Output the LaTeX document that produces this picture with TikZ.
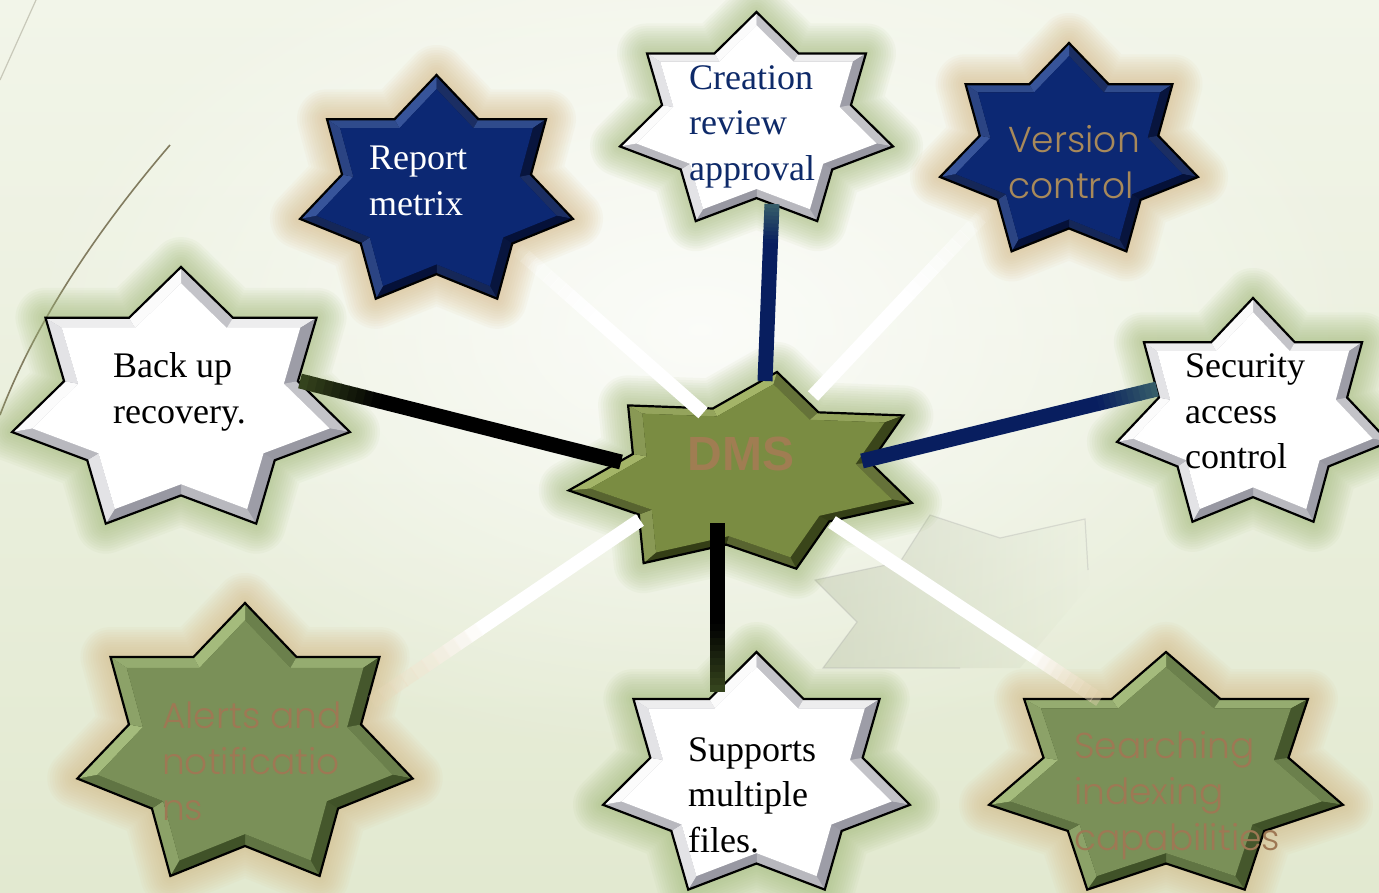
\documentclass[tikz,border=0pt]{standalone}
\usepackage{fontspec}
\setmainfont{Liberation Serif}
\IfFontExistsTF{Poppins Light}{\newfontfamily\gothic{Poppins Light}}{\newfontfamily\gothic{Poppins}}
\newfontfamily\dmsf{Liberation Sans}
\usetikzlibrary{calc,fadings}

\tikzfading[name=softglow, inner color=transparent!0, outer color=transparent!100]
\tikzfading[name=ghostfade, left color=transparent!20, right color=transparent!100]

\definecolor{bgtop}{RGB}{242,245,233}
\definecolor{bgbot}{RGB}{226,233,208}
\definecolor{navy}{RGB}{12,40,115}
\definecolor{navyL}{RGB}{55,85,155}
\definecolor{navyD}{RGB}{4,16,55}
\definecolor{olv}{RGB}{122,144,88}
\definecolor{olvL}{RGB}{165,188,125}
\definecolor{olvD}{RGB}{62,80,38}
\definecolor{dmsg}{RGB}{122,140,66}
\definecolor{dmsL}{RGB}{165,182,105}
\definecolor{dmsD}{RGB}{50,60,20}
\definecolor{wL}{RGB}{252,252,252}
\definecolor{wD}{RGB}{150,150,160}
\definecolor{glowG}{RGB}{160,184,118}
\definecolor{glowT}{RGB}{214,184,132}
\definecolor{tanV}{RGB}{168,137,90}
\definecolor{tanB}{RGB}{158,120,84}
\definecolor{tanD}{RGB}{160,125,82}
\definecolor{crenavy}{RGB}{14,42,105}
\definecolor{lnavy}{RGB}{8,30,95}
\definecolor{lteal}{RGB}{55,95,105}
\definecolor{lolive}{RGB}{55,70,30}
\definecolor{ltan}{RGB}{230,210,175}
\definecolor{ghostc}{RGB}{190,198,172}

\newcommand\ins{0.88}

\tikzset{
  hstar/.style={insert path={(-90:1)--(-64.2857:.692)--(-38.5714:1)--(-12.8571:.692)--(12.8571:1)--(38.5714:.692)--(64.2857:1)--(90:.692)--(115.7143:1)--(141.4286:.692)--(167.1429:1)--(192.8571:.692)--(218.5714:1)--(244.2857:.692)--cycle}},
  lbl/.style={anchor=north west, inner sep=0pt, align=left},
  serifsz/.style={font=\fontsize{36}{45.5}\selectfont},
  gothsz/.style={font=\gothic\fontsize{36}{46}\selectfont}
}

\newcommand\starglow[1]{%
  \foreach \w in {60,55,...,5}{%
    \draw[#1, line width=\w pt, opacity=0.065, line join=round, hstar];}}

\newcommand\starbody[3]{%
  \fill[#2, hstar];
  \foreach \k in {0,...,13}{%
    \pgfmathsetmacro\aa{-90+\k*25.7142857}%
    \pgfmathsetmacro\ab{\aa+25.7142857}%
    \pgfmathsetmacro\ra{1-0.308*mod(\k,2)}%
    \pgfmathsetmacro\rb{0.692+0.308*mod(\k,2)}%
    \pgfmathsetmacro\nang{\aa+51.4285714-77.1428571*mod(\k,2)}%
    \pgfmathtruncatemacro\pc{50+50*cos(\nang+135)}%
    \fill[#1!\pc!#2] (\aa:\ra) -- (\ab:\rb) -- (\ab:{\rb*\ins}) -- (\aa:{\ra*\ins}) -- cycle;
  }%
  \fill[#3, scale=\ins, hstar];
  \draw[black, line width=2.2pt, hstar];
}

% #1 start, #2 end, #3 start colour, #4 end colour, #5 end opacity, #6 width, #7 where the blend starts
\newcommand\gradline[7]{%
  \draw[#3, line width=#6pt] (#1) -- ($(#1)!#7+0.003!(#2)$);
  \foreach \i in {0,...,9}{%
    \pgfmathsetmacro\ta{#7+\i*(1-#7)/10}%
    \pgfmathsetmacro\tb{#7+(\i+1)*(1-#7)/10+0.003}%
    \pgfmathtruncatemacro\pc{95-\i*10}%
    \pgfmathsetmacro\op{1-(1-#5)*(\i+0.5)/10}%
    \draw[#3!\pc!#4, opacity=\op, line width=#6pt] ($(#1)!\ta!(#2)$) -- ($(#1)!{min(\tb,1)}!(#2)$);
  }}

\begin{document}
\begin{tikzpicture}[x=1pt, y=-1pt]
\useasboundingbox (0,0) rectangle (1379,892);
% background
\fill[top color=bgtop, bottom color=bgbot] (0,0) rectangle (1379,892);
\fill[white, opacity=0.8, path fading=softglow] (700,330) ellipse (680 and 430);
\draw[color={rgb,255:red,200;green,200;blue,185}, line width=1.2pt] (36,0) -- (0,80);
\draw[color={rgb,255:red,130;green,124;blue,96}, line width=1.6pt] (170,145) .. controls (110,215) and (40,310) .. (0,415);
% ghost shape
\fill[ghostc, opacity=0.6, path fading=ghostfade] (930,515) -- (1000,538) -- (1085,519) -- (1090,585) -- (1020,668) -- (823,668) -- (857,622) -- (815,580) -- (900,562) -- cycle;
\draw[gray!70, opacity=0.3, line width=1.2pt] (1088,570) -- (1085,519) -- (1000,538) -- (930,515) -- (900,562) -- (815,580) -- (857,622) -- (823,668) -- (960,668);

% outer stars
\begin{scope}[shift={(436.5,192.7)}, xscale=140, yscale=117.7]
  \starglow{glowT}\starbody{navyL}{navyD}{navy}
\end{scope}
\begin{scope}[shift={(756.5,122)}, xscale=140, yscale=110]
  \starglow{glowG}\starbody{wL}{wD}{white}
\end{scope}
\begin{scope}[shift={(1069,152.6)}, xscale=132.3, yscale=109.6]
  \starglow{glowT}\starbody{navyL}{navyD}{navy}
\end{scope}
\begin{scope}[shift={(181,402)}, xscale=173.3, yscale=135]
  \starglow{glowG}\starbody{wL}{wD}{white}
\end{scope}
\begin{scope}[shift={(1253,415.7)}, xscale=139.5, yscale=117.7]
  \starglow{glowG}\starbody{wL}{wD}{white}
\end{scope}
\begin{scope}[shift={(245,746.6)}, xscale=172, yscale=143.6]
  \starglow{glowT}\starbody{olvL}{olvD}{olv}
\end{scope}
\begin{scope}[shift={(756.5,777)}, xscale=157.4, yscale=125]
  \starglow{glowG}\starbody{wL}{wD}{white}
\end{scope}
\begin{scope}[shift={(1166,777)}, xscale=181.5, yscale=125]
  \starglow{glowT}\starbody{olvL}{olvD}{olv}
\end{scope}
% central star
\begin{scope}[cm={176,-6.4,30,102,(747,474)}]
  \starglow{glowG}\starbody{dmsL}{dmsD}{dmsg}
\end{scope}

% connector end points
\coordinate (dmsN) at (765,381);  \coordinate (creS) at (772,204);
\coordinate (dmsNW) at (703,413); \coordinate (repSE) at (518,250);
\coordinate (dmsNE) at (813,396); \coordinate (verSW) at (988,210);
\coordinate (dmsW) at (621,462);  \coordinate (bakE) at (300,381);
\coordinate (dmsE) at (862,461);  \coordinate (secW) at (1157,389);
\coordinate (dmsS) at (717,523);  \coordinate (supN) at (717,692);
\coordinate (dmsSW) at (640,520); \coordinate (aleNE) at (372,702);
\coordinate (dmsSE) at (832,522); \coordinate (seaNW) at (1100,700);

\gradline{dmsN}{creS}{lnavy}{lteal}{1}{15}{0.78}
\gradline{dmsE}{secW}{lnavy}{lteal}{1}{15}{0.8}
\gradline{dmsW}{bakE}{black}{lolive}{1}{15}{0.75}
\gradline{dmsS}{supN}{black}{lolive}{1}{15}{0.6}
\gradline{dmsNW}{repSE}{white}{white}{0}{14}{0.6}
\gradline{dmsNE}{verSW}{white}{white}{0}{14}{0.55}
\gradline{dmsSW}{aleNE}{white}{ltan}{0.2}{14}{0.6}
\gradline{dmsSE}{seaNW}{white}{ltan}{0.35}{14}{0.75}

% texts
\node[lbl, serifsz, text=white] (report) at (369,137.5) {\strut Report\\metrix};
\node[lbl, serifsz, text=crenavy] (creation) at (689,57.15) {\strut Creation\\review\\approval};
\node[lbl, gothsz, text=tanV] (version) at (1008,120.5) {\strut Version\\control};
\node[lbl, serifsz, text=black] (backup) at (113,345.5) {\strut Back up\\recovery.};
\node[lbl, serifsz, text=black] (security) at (1185,345.5) {\strut Security\\access\\control};
\node[lbl, serifsz, text=black] (supports) at (688,729.15) {\strut Supports\\multiple\\files.};
\node[lbl, gothsz, text=tanB] (alerts) at (162,695.8) {\strut Alerts and\\notificatio\\ns};
\node[lbl, gothsz, text=tanB] (searching) at (1074,725.8) {\strut Searching\\indexing\\capabilities};
\node[anchor=base, inner sep=0pt, text=tanD, font=\dmsf\bfseries\fontsize{48}{52}\selectfont] (dms) at (741,470) {DMS};
\end{tikzpicture}
\end{document}
